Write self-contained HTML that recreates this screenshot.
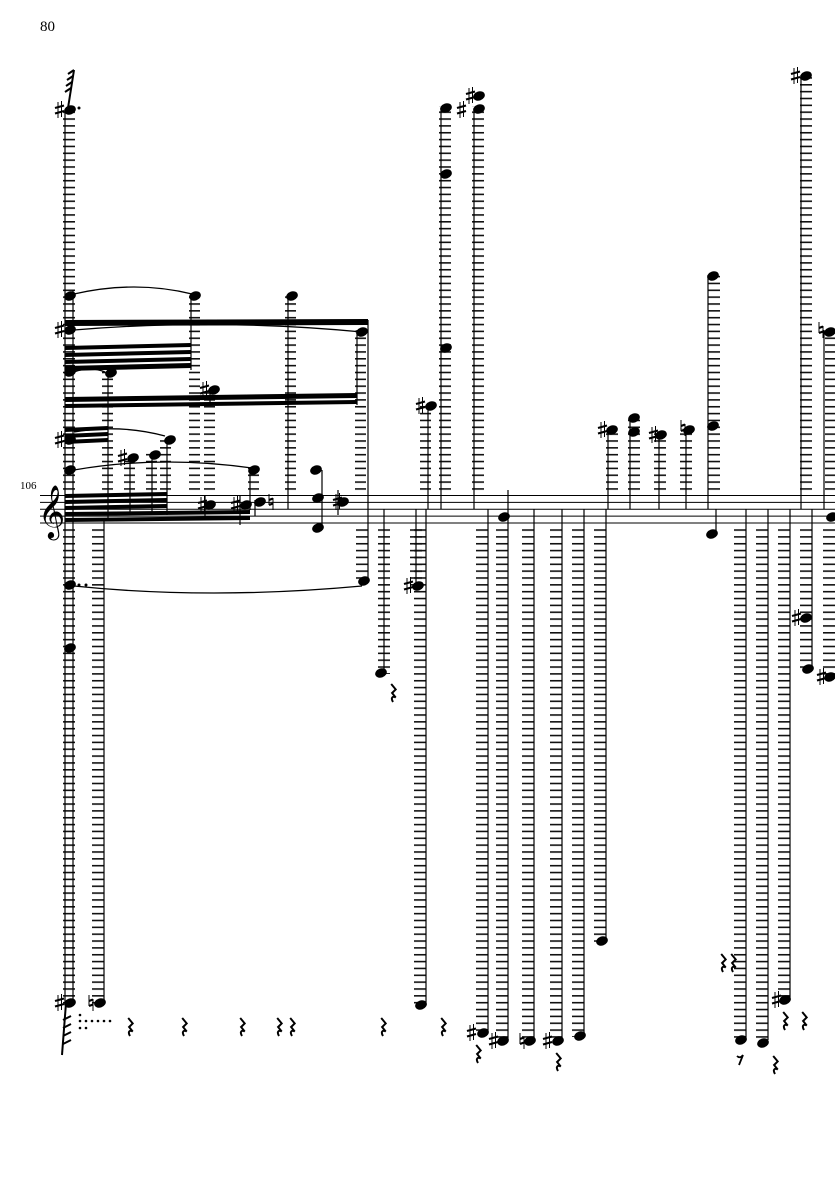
<!DOCTYPE html>
<html><head><meta charset="utf-8"><style>
html,body{margin:0;padding:0;background:#fff;width:835px;height:1181px;overflow:hidden}
svg{display:block}
</style></head><body>
<svg width="835" height="1181" viewBox="0 0 835 1181" xmlns="http://www.w3.org/2000/svg">
<defs>
<pattern id="L" patternUnits="userSpaceOnUse" x="0" y="495" width="40" height="6.85"><rect x="0" y="0" width="40" height="1.6" fill="#111"/></pattern>
<symbol id="r" viewBox="0 0 8 20" overflow="visible"><path d="M2,0 L7,6 L3,10 L7,15 C4,13 1,15 4,20" fill="none" stroke="#000" stroke-width="2.2"/></symbol>
<symbol id="s" viewBox="0 0 9 16" overflow="visible"><path d="M3,0V16M6.5,-1V15" stroke="#000" stroke-width="1"/><path d="M0,6L9,3.5M0,11.5L9,9" stroke="#000" stroke-width="2.2"/></symbol>
<symbol id="n" viewBox="0 0 6 16" overflow="visible"><path d="M1,0V11M5,4V16" stroke="#000" stroke-width="1"/><path d="M1,6L5,4.5M1,11L5,9.5" stroke="#000" stroke-width="2.2"/></symbol>
</defs>
<text x="40" y="31" font-family="Liberation Serif, serif" font-size="15">80</text>
<text x="20" y="489" font-family="Liberation Serif, serif" font-size="11">106</text>
<text x="38" y="527" font-family="DejaVu Sans, sans-serif" font-size="46">𝄞</text>
<g stroke="#000" stroke-width="1">
<line x1="40" y1="495.5" x2="835" y2="495.5"/><line x1="40" y1="502.4" x2="835" y2="502.4"/><line x1="40" y1="509.2" x2="835" y2="509.2"/><line x1="40" y1="516.1" x2="835" y2="516.1"/><line x1="40" y1="523" x2="835" y2="523"/>
</g>
<g fill="url(#L)">
<rect x="63" y="108" width="12" height="383"/>
<rect x="102" y="370" width="11" height="121"/>
<rect x="124" y="456" width="11" height="35"/>
<rect x="146" y="453" width="11" height="38"/>
<rect x="160" y="438" width="11" height="53"/>
<rect x="189" y="294" width="11" height="197"/>
<rect x="204" y="388" width="11" height="103"/>
<rect x="248" y="468" width="11" height="23"/>
<rect x="285" y="294" width="11" height="197"/>
<rect x="355" y="328" width="11" height="163"/>
<rect x="420" y="403" width="11" height="88"/>
<rect x="439" y="106" width="12" height="385"/>
<rect x="472" y="106" width="12" height="385"/>
<rect x="606" y="428" width="12" height="63"/>
<rect x="628" y="418" width="12" height="73"/>
<rect x="654" y="433" width="12" height="58"/>
<rect x="680" y="428" width="12" height="63"/>
<rect x="708" y="273" width="12" height="218"/>
<rect x="800" y="73" width="12" height="418"/>
<rect x="825" y="328" width="12" height="163"/>
</g>
<g fill="url(#L)">
<rect x="63" y="527" width="12" height="478"/>
<rect x="92" y="527" width="12" height="478"/>
<rect x="356" y="527" width="12" height="55"/>
<rect x="378" y="527" width="12" height="147"/>
<rect x="410" y="527" width="12" height="60"/>
<rect x="414" y="527" width="12" height="480"/>
<rect x="476" y="527" width="12" height="507"/>
<rect x="496" y="527" width="12" height="515"/>
<rect x="522" y="527" width="12" height="515"/>
<rect x="550" y="527" width="12" height="515"/>
<rect x="572" y="527" width="12" height="510"/>
<rect x="594" y="527" width="12" height="415"/>
<rect x="734" y="527" width="12" height="515"/>
<rect x="756" y="527" width="12" height="515"/>
<rect x="778" y="527" width="12" height="475"/>
<rect x="800" y="527" width="12" height="145"/>
<rect x="823" y="527" width="12" height="150"/>
</g>
<g stroke="#000" stroke-width="1.2">
<line x1="65" y1="110" x2="65" y2="1003"/><line x1="73" y1="290" x2="73" y2="1000"/>
<line x1="104" y1="520" x2="104" y2="1003"/>
<line x1="108" y1="373" x2="108" y2="520"/><line x1="130" y1="458" x2="130" y2="515"/><line x1="152" y1="455" x2="152" y2="515"/><line x1="167" y1="440" x2="167" y2="515"/>
<line x1="191" y1="296" x2="191" y2="370"/><line x1="210" y1="390" x2="210" y2="405"/><line x1="250" y1="470" x2="250" y2="510"/>
<line x1="288" y1="296" x2="288" y2="509"/><line x1="357" y1="330" x2="357" y2="405"/><line x1="368" y1="320" x2="368" y2="580"/>
<line x1="384" y1="509" x2="384" y2="672"/><line x1="428" y1="405" x2="428" y2="509"/><line x1="416" y1="509" x2="416" y2="585"/><line x1="426" y1="509" x2="426" y2="1005"/>
<line x1="441" y1="108" x2="441" y2="509"/><line x1="474" y1="108" x2="474" y2="509"/>
<line x1="488" y1="509" x2="488" y2="1032"/><line x1="508" y1="490" x2="508" y2="1040"/><line x1="534" y1="509" x2="534" y2="1040"/><line x1="562" y1="509" x2="562" y2="1040"/><line x1="584" y1="509" x2="584" y2="1035"/><line x1="606" y1="509" x2="606" y2="940"/>
<line x1="608" y1="430" x2="608" y2="509"/><line x1="630" y1="420" x2="630" y2="509"/><line x1="659" y1="435" x2="659" y2="509"/><line x1="686" y1="430" x2="686" y2="509"/><line x1="708" y1="275" x2="708" y2="509"/><line x1="716" y1="509" x2="716" y2="533"/>
<line x1="746" y1="509" x2="746" y2="1040"/><line x1="768" y1="509" x2="768" y2="1040"/><line x1="790" y1="509" x2="790" y2="1000"/>
<line x1="801" y1="75" x2="801" y2="509"/><line x1="812" y1="509" x2="812" y2="670"/><line x1="824" y1="330" x2="824" y2="509"/>
<line x1="205" y1="495" x2="205" y2="520"/><line x1="240" y1="495" x2="240" y2="525"/><line x1="255" y1="500" x2="255" y2="516"/><line x1="322" y1="470" x2="322" y2="530"/><line x1="338" y1="490" x2="338" y2="515"/>
</g>
<g fill="#000">
<polygon points="65,320 368,319 368,325 65,326"/>
<polygon points="65,346 191,343 191,347 65,350"/>
<polygon points="65,353 191,350 191,354 65,357"/>
<polygon points="65,360 191,357 191,361 65,364"/>
<polygon points="65,366 191,363 191,368 65,371"/>
<polygon points="65,397 357,393 357,398 65,402"/>
<polygon points="65,404 357,400 357,404 65,408"/>
<polygon points="65,428 108,426 108,430 65,432"/>
<polygon points="65,434 108,432 108,436 65,438"/>
<polygon points="65,440 108,438 108,442 65,444"/>
<polygon points="65,494 167,492 167,496 65,498"/>
<polygon points="65,500 167,498 167,502 65,504"/>
<polygon points="65,506 167,504 167,508 65,510"/>
<polygon points="65,512 250,510 250,514 65,516"/>
<polygon points="65,518 250,516 250,520 65,522"/>
</g>
<g fill="none" stroke="#000" stroke-width="1.3">
<path d="M74,294 Q135,280 192,294"/>
<path d="M74,330 Q215,318 362,332"/>
<path d="M74,372 Q90,366 105,372"/>
<path d="M74,432 Q120,424 165,436"/>
<path d="M74,470 Q160,455 252,468"/>
<path d="M74,586 Q210,600 362,586"/>
</g>
<g fill="#000">
<ellipse cx="70" cy="110" rx="6" ry="4.5" transform="rotate(-20 70 110)"/>
<ellipse cx="70" cy="296" rx="6" ry="4.5" transform="rotate(-20 70 296)"/>
<ellipse cx="70" cy="330" rx="6" ry="4.5" transform="rotate(-20 70 330)"/>
<ellipse cx="70" cy="372" rx="6" ry="4.5" transform="rotate(-20 70 372)"/>
<ellipse cx="70" cy="440" rx="6" ry="4.5" transform="rotate(-20 70 440)"/>
<ellipse cx="70" cy="470" rx="6" ry="4.5" transform="rotate(-20 70 470)"/>
<ellipse cx="70" cy="585" rx="6" ry="4.5" transform="rotate(-20 70 585)"/>
<ellipse cx="70" cy="648" rx="6" ry="4.5" transform="rotate(-20 70 648)"/>
<ellipse cx="70" cy="1003" rx="6" ry="4.5" transform="rotate(-20 70 1003)"/>
<ellipse cx="100" cy="1003" rx="6" ry="4.5" transform="rotate(-20 100 1003)"/>
<ellipse cx="111" cy="373" rx="6" ry="4.5" transform="rotate(-20 111 373)"/>
<ellipse cx="133" cy="458" rx="6" ry="4.5" transform="rotate(-20 133 458)"/>
<ellipse cx="155" cy="455" rx="6" ry="4.5" transform="rotate(-20 155 455)"/>
<ellipse cx="170" cy="440" rx="6" ry="4.5" transform="rotate(-20 170 440)"/>
<ellipse cx="195" cy="296" rx="6" ry="4.5" transform="rotate(-20 195 296)"/>
<ellipse cx="214" cy="390" rx="6" ry="4.5" transform="rotate(-20 214 390)"/>
<ellipse cx="254" cy="470" rx="6" ry="4.5" transform="rotate(-20 254 470)"/>
<ellipse cx="210" cy="505" rx="6" ry="4.5" transform="rotate(-20 210 505)"/>
<ellipse cx="246" cy="505" rx="6" ry="4.5" transform="rotate(-20 246 505)"/>
<ellipse cx="260" cy="502" rx="6" ry="4.5" transform="rotate(-20 260 502)"/>
<ellipse cx="292" cy="296" rx="6" ry="4.5" transform="rotate(-20 292 296)"/>
<ellipse cx="316" cy="470" rx="6" ry="4.5" transform="rotate(-20 316 470)"/>
<ellipse cx="318" cy="498" rx="6" ry="4.5" transform="rotate(-20 318 498)"/>
<ellipse cx="318" cy="528" rx="6" ry="4.5" transform="rotate(-20 318 528)"/>
<ellipse cx="343" cy="502" rx="6" ry="4.5" transform="rotate(-20 343 502)"/>
<ellipse cx="362" cy="332" rx="6" ry="4.5" transform="rotate(-20 362 332)"/>
<ellipse cx="364" cy="581" rx="6" ry="4.5" transform="rotate(-20 364 581)"/>
<ellipse cx="381" cy="673" rx="6" ry="4.5" transform="rotate(-20 381 673)"/>
<ellipse cx="418" cy="586" rx="6" ry="4.5" transform="rotate(-20 418 586)"/>
<ellipse cx="431" cy="406" rx="6" ry="4.5" transform="rotate(-20 431 406)"/>
<ellipse cx="421" cy="1005" rx="6" ry="4.5" transform="rotate(-20 421 1005)"/>
<ellipse cx="446" cy="108" rx="6" ry="4.5" transform="rotate(-20 446 108)"/>
<ellipse cx="446" cy="174" rx="6" ry="4.5" transform="rotate(-20 446 174)"/>
<ellipse cx="446" cy="348" rx="6" ry="4.5" transform="rotate(-20 446 348)"/>
<ellipse cx="479" cy="96" rx="6" ry="4.5" transform="rotate(-20 479 96)"/>
<ellipse cx="479" cy="109" rx="6" ry="4.5" transform="rotate(-20 479 109)"/>
<ellipse cx="483" cy="1033" rx="6" ry="4.5" transform="rotate(-20 483 1033)"/>
<ellipse cx="504" cy="517" rx="6" ry="4.5" transform="rotate(-20 504 517)"/>
<ellipse cx="503" cy="1041" rx="6" ry="4.5" transform="rotate(-20 503 1041)"/>
<ellipse cx="530" cy="1041" rx="6" ry="4.5" transform="rotate(-20 530 1041)"/>
<ellipse cx="558" cy="1041" rx="6" ry="4.5" transform="rotate(-20 558 1041)"/>
<ellipse cx="580" cy="1036" rx="6" ry="4.5" transform="rotate(-20 580 1036)"/>
<ellipse cx="602" cy="941" rx="6" ry="4.5" transform="rotate(-20 602 941)"/>
<ellipse cx="612" cy="430" rx="6" ry="4.5" transform="rotate(-20 612 430)"/>
<ellipse cx="634" cy="418" rx="6" ry="4.5" transform="rotate(-20 634 418)"/>
<ellipse cx="634" cy="432" rx="6" ry="4.5" transform="rotate(-20 634 432)"/>
<ellipse cx="661" cy="435" rx="6" ry="4.5" transform="rotate(-20 661 435)"/>
<ellipse cx="689" cy="430" rx="6" ry="4.5" transform="rotate(-20 689 430)"/>
<ellipse cx="713" cy="276" rx="6" ry="4.5" transform="rotate(-20 713 276)"/>
<ellipse cx="713" cy="426" rx="6" ry="4.5" transform="rotate(-20 713 426)"/>
<ellipse cx="712" cy="534" rx="6" ry="4.5" transform="rotate(-20 712 534)"/>
<ellipse cx="741" cy="1040" rx="6" ry="4.5" transform="rotate(-20 741 1040)"/>
<ellipse cx="763" cy="1043" rx="6" ry="4.5" transform="rotate(-20 763 1043)"/>
<ellipse cx="785" cy="1000" rx="6" ry="4.5" transform="rotate(-20 785 1000)"/>
<ellipse cx="806" cy="76" rx="6" ry="4.5" transform="rotate(-20 806 76)"/>
<ellipse cx="806" cy="618" rx="6" ry="4.5" transform="rotate(-20 806 618)"/>
<ellipse cx="808" cy="669" rx="6" ry="4.5" transform="rotate(-20 808 669)"/>
<ellipse cx="830" cy="332" rx="6" ry="4.5" transform="rotate(-20 830 332)"/>
<ellipse cx="832" cy="517" rx="6" ry="4.5" transform="rotate(-20 832 517)"/>
<ellipse cx="830" cy="677" rx="6" ry="4.5" transform="rotate(-20 830 677)"/>
<circle cx="79" cy="108" r="1.5"/><circle cx="79" cy="585" r="1.5"/><circle cx="86" cy="585" r="1.5"/>
</g>
<g stroke="#000" stroke-width="2"><path d="M68,108 L74,70"/><path d="M74,70l-6,4M73,76l-6,4M72,82l-6,4M71,88l-6,4"/></g>
<g stroke="#000" stroke-width="2"><path d="M66,1003 L62,1055"/><path d="M63,1020l8,-4M63,1028l8,-4M63,1036l8,-4M63,1044l8,-4"/></g>
<g fill="#000"><circle cx="80" cy="1015" r="1.3"/><circle cx="80" cy="1021" r="1.3"/><circle cx="86" cy="1021" r="1.3"/><circle cx="92" cy="1021" r="1.3"/><circle cx="98" cy="1021" r="1.3"/><circle cx="104" cy="1021" r="1.3"/><circle cx="110" cy="1021" r="1.3"/><circle cx="80" cy="1028" r="1.3"/><circle cx="86" cy="1028" r="1.3"/></g>
<use href="#s" x="55" y="102" width="9" height="16"/>
<use href="#s" x="55" y="322" width="9" height="16"/>
<use href="#s" x="55" y="432" width="9" height="16"/>
<use href="#s" x="55" y="995" width="9" height="16"/>
<use href="#n" x="88" y="995" width="6" height="16"/>
<use href="#s" x="118" y="450" width="9" height="16"/>
<use href="#s" x="200" y="382" width="9" height="16"/>
<use href="#s" x="198" y="497" width="9" height="16"/>
<use href="#s" x="231" y="497" width="9" height="16"/>
<use href="#n" x="268" y="494" width="6" height="16"/>
<use href="#s" x="333" y="494" width="9" height="16"/>
<use href="#s" x="404" y="578" width="9" height="16"/>
<use href="#s" x="416" y="398" width="9" height="16"/>
<use href="#s" x="457" y="102" width="9" height="16"/>
<use href="#s" x="466" y="88" width="9" height="16"/>
<use href="#s" x="467" y="1025" width="9" height="16"/>
<use href="#s" x="489" y="1033" width="9" height="16"/>
<use href="#n" x="519" y="1033" width="6" height="16"/>
<use href="#s" x="543" y="1033" width="9" height="16"/>
<use href="#s" x="598" y="422" width="9" height="16"/>
<use href="#s" x="649" y="427" width="9" height="16"/>
<use href="#n" x="680" y="420" width="6" height="16"/>
<use href="#s" x="772" y="992" width="9" height="16"/>
<use href="#s" x="792" y="610" width="9" height="16"/>
<use href="#s" x="791" y="68" width="9" height="16"/>
<use href="#n" x="818" y="322" width="6" height="16"/>
<use href="#s" x="817" y="669" width="9" height="16"/>
<use href="#r" x="126" y="1018" width="8" height="18"/>
<use href="#r" x="180" y="1018" width="8" height="18"/>
<use href="#r" x="238" y="1018" width="8" height="18"/>
<use href="#r" x="275" y="1018" width="8" height="18"/>
<use href="#r" x="288" y="1018" width="8" height="18"/>
<use href="#r" x="379" y="1018" width="8" height="18"/>
<use href="#r" x="439" y="1018" width="8" height="18"/>
<use href="#r" x="389" y="684" width="8" height="18"/>
<use href="#r" x="474" y="1045" width="8" height="18"/>
<use href="#r" x="554" y="1053" width="8" height="18"/>
<use href="#r" x="719" y="954" width="8" height="18"/>
<use href="#r" x="729" y="954" width="8" height="18"/>
<use href="#r" x="781" y="1012" width="8" height="18"/>
<use href="#r" x="800" y="1012" width="8" height="18"/>
<use href="#r" x="771" y="1056" width="8" height="18"/>
<path d="M737,1056 q3,3 6,-1 l-4,10" fill="none" stroke="#000" stroke-width="1.8"/>
</svg>
</body></html>
